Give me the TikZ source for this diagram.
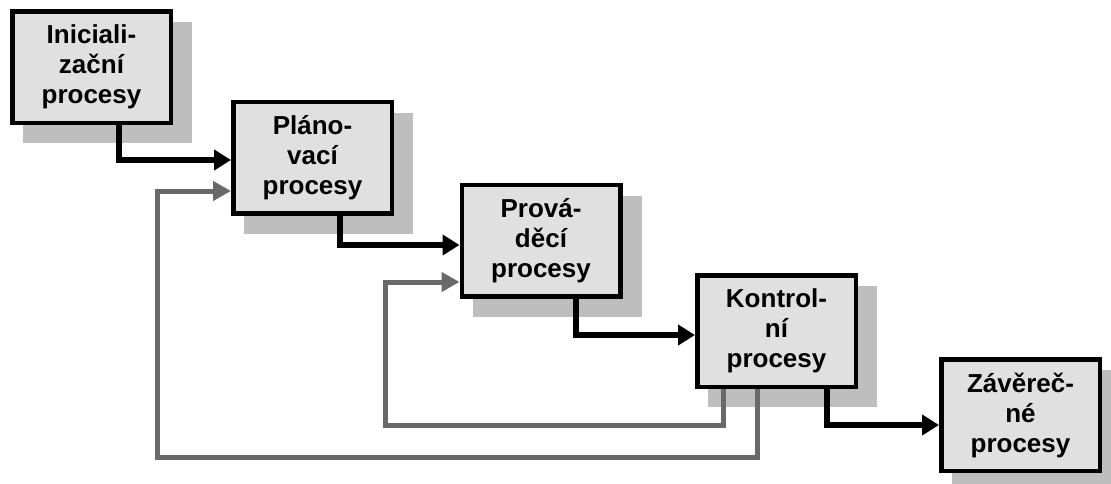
\documentclass[tikz,border=0pt]{standalone}
\usepackage{fontspec}
\setmainfont{Liberation Sans}
\usetikzlibrary{arrows.meta,calc,backgrounds}
\definecolor{boxfill}{RGB}{224,224,224}
\definecolor{shadowgray}{RGB}{190,190,190}
\definecolor{loopgray}{RGB}{105,105,105}
\tikzset{
  procbox/.style={draw=black, line width=4.5pt, fill=boxfill,
    minimum width=158.5pt, minimum height=111.5pt, inner sep=0pt,
    align=center, font=\fontsize{26}{30}\selectfont\bfseries},
  flow/.style={line width=5.5pt, -{Triangle[length=17pt,width=20pt]}},
  feedback/.style={draw=loopgray, line width=5pt,
    -{Triangle[length=18pt,width=19pt]}},
}
\begin{document}
\begin{tikzpicture}[x=1pt, y=-1pt]
  \useasboundingbox (0,0) rectangle (1111,483);

  % process phases
  \node[procbox] (b1) at (91.5,67)   {Iniciali-\\začn\'{\i}\\procesy};
  \node[procbox] (b2) at (312.5,157.5) {Pláno-\\vac\'{\i}\\procesy};
  \node[procbox] (b3) at (541,240.5) {Prová-\\děc\'{\i}\\procesy};
  \node[procbox] (b4) at (776.5,331) {Kontrol-\\n\'{\i}\\procesy};
  \node[procbox] (b5) at (1020.5,415) {Závěreč-\\né\\procesy};

  % shadows behind the boxes
  \begin{scope}[on background layer]
    \foreach \b in {b1,b2,b3,b4,b5}
      \fill[shadowgray] ($(\b.north west)+(13,13)$) rectangle ($(\b.south east)+(19,18)$);
  \end{scope}

  % main flow
  \draw[flow] ([xshift=27.5pt]b1.south) |- ([yshift=-2.5pt]b2.west);
  \draw[flow] ([xshift=27.5pt]b2.south) |- ([yshift=-4.5pt]b3.west);
  \draw[flow] ([xshift=35pt]b3.south)   |- ([yshift=-4pt]b4.west);
  \draw[flow] ([xshift=50.5pt]b4.south) |- ([yshift=-10pt]b5.west);

  % feedback loops from control
  \coordinate (innerturn) at (385,425);
  \coordinate (outerturn) at (157,457);
  \draw[feedback] ([xshift=-53.5pt]b4.south) |- (innerturn) |- ([yshift=-41.5pt]b3.west);
  \draw[feedback] ([xshift=-19.5pt]b4.south) |- (outerturn) |- ([yshift=-33.5pt]b2.west);
\end{tikzpicture}
\end{document}
